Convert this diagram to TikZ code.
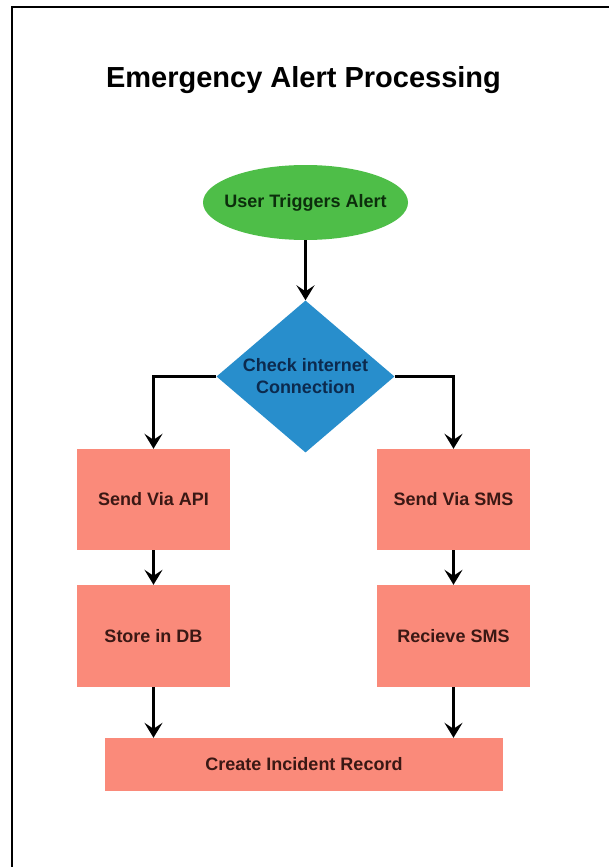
\documentclass[tikz,border=0pt]{standalone}
\usepackage{fontspec}
\setmainfont{Liberation Sans}
\usetikzlibrary{shapes.geometric,arrows.meta}

\definecolor{startgreen}{RGB}{78,190,72}
\definecolor{decblue}{RGB}{40,142,204}
\definecolor{procsalmon}{RGB}{250,138,122}
\definecolor{greentxt}{RGB}{12,46,12}
\definecolor{bluetxt}{RGB}{12,42,78}
\definecolor{salmontxt}{RGB}{58,24,20}

\tikzset{
  nodetext/.style={font=\bfseries\fontsize{18}{22}\selectfont},
  startnode/.style={ellipse, fill=startgreen, draw=none, inner sep=0pt,
    minimum width=205pt, minimum height=75pt},
  decnode/.style={diamond, fill=decblue, draw=none, inner sep=0pt,
    minimum width=178pt, minimum height=152pt},
  procbox/.style={rectangle, fill=procsalmon, draw=none, inner sep=0pt,
    nodetext, text=salmontxt},
  flow/.style={line width=2.6pt, black,
    -{Stealth[length=15pt, width=18pt, inset=6pt]}},
}

\begin{document}
\begin{tikzpicture}[x=1pt, y=-1pt]
  \useasboundingbox (0,0) rectangle (609,867);
  \fill[white] (0,0) rectangle (609,867);

  % frame: only the top and left edges are in view
  \draw[line width=2pt, black] (12,867) -- (12,7) -- (609,7);

  % heading
  \node[font=\bfseries\fontsize{29}{34}\selectfont, anchor=base] (title)
    at (303.5,88) {Emergency Alert Processing};

  % start
  \node[startnode, label={[nodetext, text=greentxt]center:User Triggers Alert}]
    (start) at (305.5,202.5) {};

  % decision
  \node[decnode] (check) at (305.5,376.5) {};
  \node[nodetext, text=bluetxt, align=center, inner sep=0pt] (checktxt)
    at (check.center) {Check internet\\Connection};

  % left branch
  \node[procbox, minimum width=153pt, minimum height=101pt] (api)
    at (153.5,499.5) {Send Via API};
  \node[procbox, minimum width=153pt, minimum height=102pt] (db)
    at (153.5,636) {Store in DB};

  % right branch
  \node[procbox, minimum width=153pt, minimum height=101pt] (sms)
    at (453.5,499.5) {Send Via SMS};
  \node[procbox, minimum width=153pt, minimum height=102pt] (rsms)
    at (453.5,636) {Recieve SMS};

  % merge
  \node[procbox, minimum width=398pt, minimum height=53pt] (rec)
    at (304,764.5) {Create Incident Record};

  % connectors
  \draw[flow] (start.south) -- (check.north);
  \draw[flow] (check.west) -| (api.north);
  \draw[flow] (check.east) -| (sms.north);
  \draw[flow] (api.south) -- (db.north);
  \draw[flow] (sms.south) -- (rsms.north);
  \draw[flow] (db.south) -- (db.south |- rec.north);
  \draw[flow] (rsms.south) -- (rsms.south |- rec.north);
\end{tikzpicture}
\end{document}
